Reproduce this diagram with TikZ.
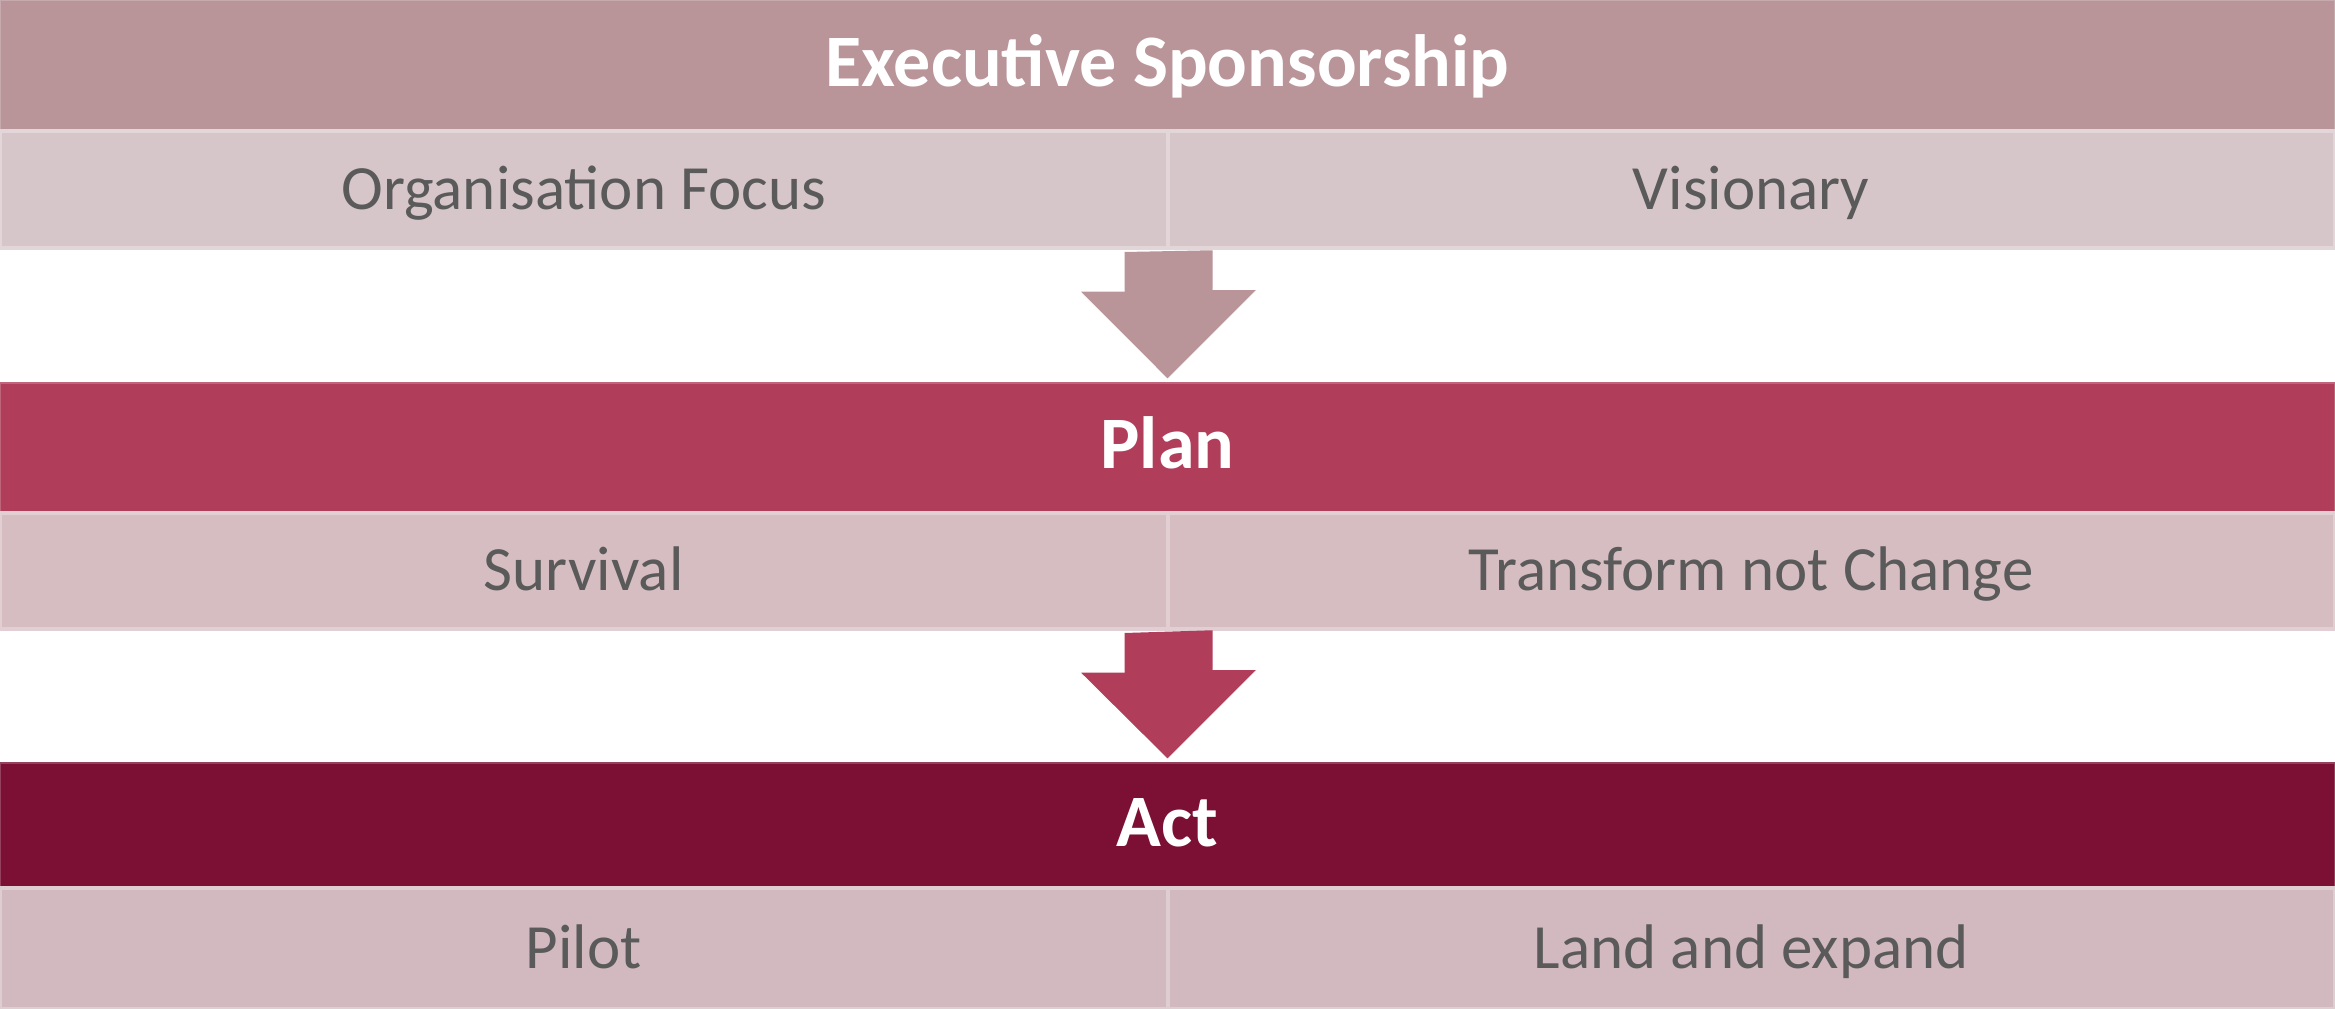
\documentclass[tikz,border=0pt]{standalone}
\usepackage{fontspec}
\setmainfont{Carlito}
\usetikzlibrary{calc}
\definecolor{bandA}{HTML}{B9959A}
\definecolor{bandB}{HTML}{B03D5A}
\definecolor{bandC}{HTML}{7B1034}
\definecolor{rowA}{HTML}{D7C6C9}
\definecolor{rowB}{HTML}{D6BDC2}
\definecolor{rowC}{HTML}{D1B9BF}
\definecolor{celltext}{HTML}{5A5A5A}
\tikzset{
  bandbox/.style={rectangle, inner sep=0pt, minimum width=2335pt, text=white,
    font=\fontsize{74}{84}\selectfont\bfseries, text height=51pt, text depth=9pt,
    draw=#1!80!white, line width=1.5pt, fill=#1},
  cellbox/.style={rectangle, inner sep=0pt, minimum width=1167.5pt, text=celltext,
    font=\fontsize{63}{74}\selectfont, text height=46pt, text depth=7pt,
    draw=#1!72!white, line width=4pt, fill=#1},
  arrowfill/.style={fill=#1},
  arrowedge/.style={draw=white, line width=1pt, line join=round}
}
\begin{document}
\begin{tikzpicture}[x=1pt,y=-1pt]
\useasboundingbox[fill=white] (0,0) rectangle (2335,1009);
% Executive Sponsorship
\node[bandbox=bandA, minimum height=130pt] (exec) at (1167.5,65) {Executive Sponsorship};
\node[cellbox=rowA, minimum height=117pt] (r1l) at (583.75,189.5) {Organisation Focus};
\node[cellbox=rowA, minimum height=117pt] (r1r) at (1751.25,189.5) {Visionary};
% Plan
\node[bandbox=bandB, minimum height=129pt] (plan) at (1167.5,447.5) {Plan};
\node[cellbox=rowB, minimum height=116pt] (r2l) at (583.75,571) {Survival};
\node[cellbox=rowB, minimum height=116pt] (r2r) at (1751.25,571) {Transform not Change};
% Act
\node[bandbox=bandC, minimum height=125pt] (act) at (1167.5,825.5) {Act};
\node[cellbox=rowC, minimum height=121pt] (r3l) at (583.75,948.5) {Pilot};
\node[cellbox=rowC, minimum height=121pt] (r3r) at (1751.25,948.5) {Land and expand};
% Arrows
\coordinate (a1) at ($(r1l.south east)+(-45,2)$);
\coordinate (t1) at ($(plan.north)+(0,-3)$);
\fill[arrowfill=bandA] (a1) -- ++(0,39) -- ++(-45,0) -- (t1) -- ++(90,-90) -- ++(-45,0) -- ++(0,-39) -- cycle;
\draw[arrowedge] ($(a1)+(0,39)$) -- ++(-45,0) -- (t1) -- ++(90,-90) -- ++(-45,0);
\coordinate (a2) at ($(r2l.south east)+(-45,2)$);
\coordinate (t2) at ($(act.north)+(0,-3)$);
\fill[arrowfill=bandB] (a2) -- ++(0,39) -- ++(-45,0) -- (t2) -- ++(90,-90) -- ++(-45,0) -- ++(0,-39) -- cycle;
\draw[arrowedge] ($(a2)+(0,39)$) -- ++(-45,0) -- (t2) -- ++(90,-90) -- ++(-45,0);
\end{tikzpicture}
\end{document}
